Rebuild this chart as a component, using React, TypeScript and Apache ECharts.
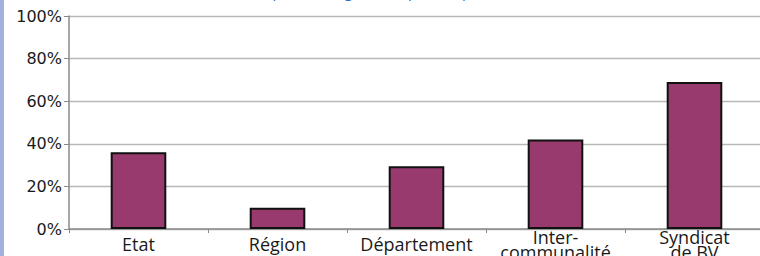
import React, { useEffect, useRef } from "react";
import * as echarts from "echarts";

const categories = ["Etat", "Région", "Département", "Inter-\ncommunalité", "Syndicat\nde BV"];
const values = [36, 10, 29.5, 42, 69];
const yTicks = { min: 0, max: 100, interval: 20 };
const titleText = "(pourcentage des réponses positives)";

export default function App() {
  const ref = useRef<HTMLDivElement>(null);
  useEffect(() => {
    const chart = echarts.init(ref.current!, null, { renderer: "svg" });
    chart.setOption({
      animation: false,
      backgroundColor: "#ffffff",
      grid: { left: 69, top: 16, bottom: 27, right: -4, containLabel: false, outerBoundsMode: "none" },
      graphic: [
        { type: "rect", left: 0, top: 0, shape: { width: 4, height: 256 }, style: { fill: "#a2b0e0" } },
        {
          type: "text",
          left: 268,
          top: -17,
          style: { text: titleText, fill: "#2f6fcf", font: "15px 'Open Sans'" },
        },
      ],
      xAxis: {
        type: "category",
        data: categories,
        axisLine: { show: true, lineStyle: { color: "#8a8a8a", width: 1.5 } },
        axisTick: { show: true, length: 4, lineStyle: { color: "#8a8a8a" } },
        axisLabel: {
          interval: 0,
          color: "#1a1a1a",
          fontFamily: "Open Sans",
          fontSize: 18,
          lineHeight: 15,
          verticalAlign: "middle",
          margin: 15,
        },
      },
      yAxis: {
        type: "value",
        min: yTicks.min,
        max: yTicks.max,
        interval: yTicks.interval,
        axisLine: { show: true, lineStyle: { color: "#8a8a8a", width: 1.5 } },
        axisTick: { show: true, length: 5, lineStyle: { color: "#8a8a8a" } },
        splitLine: { lineStyle: { color: "#b8b8b8", width: 1.3 } },
        axisLabel: {
          formatter: "{value}%",
          color: "#1a1a1a",
          fontFamily: "DejaVu Sans",
          fontSize: 16,
          margin: 7,
        },
      },
      series: [
        {
          type: "bar",
          data: values,
          barWidth: "40%",
          itemStyle: { color: "#983a6d", borderColor: "#111111", borderWidth: 2 },
        },
      ],
    });
    return () => chart.dispose();
  }, []);
  return (
    <div
      ref={ref}
      style={{ position: "absolute", left: 0, top: 0, width: 760, height: 256 }}
    />
  );
}
